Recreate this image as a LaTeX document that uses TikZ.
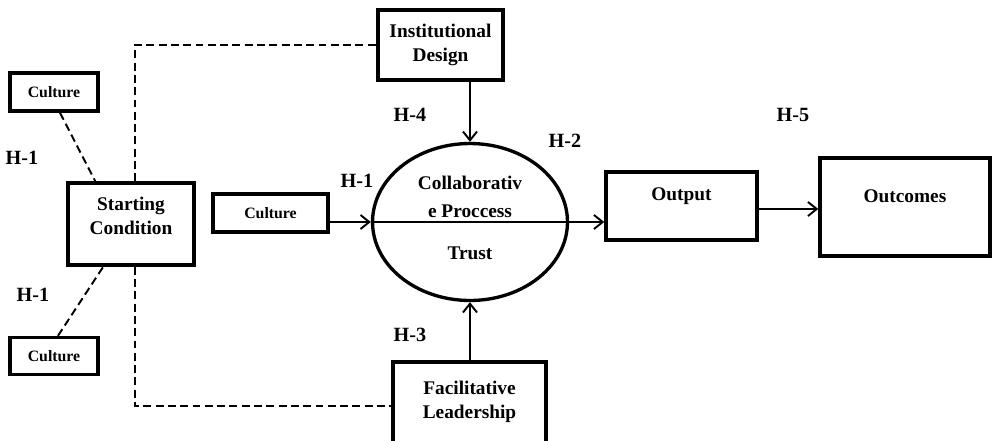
\documentclass[tikz,border=0pt]{standalone}
\usepackage{fontspec}
\setmainfont{Liberation Serif}
\usetikzlibrary{arrows.meta,positioning,calc,shapes.geometric}

\tikzset{
  box/.style={draw, line width=2pt, rectangle, inner sep=0pt},
  smallbox/.style={box, minimum width=1.76cm, minimum height=0.76cm, font=\fontsize{9}{11}\selectfont\bfseries},
  txt/.style={align=center, inner sep=0pt, font=\fontsize{11}{14}\selectfont\bfseries},
  hyp/.style={inner sep=0pt, font=\fontsize{11.5}{14}\selectfont\bfseries},
  link/.style={line width=1.1pt, dash pattern=on 4.5pt off 2.5pt},
  flow/.style={-{Straight Barb[length=5pt,width=8pt]}, line width=1.1pt},
}

\begin{document}
\begin{tikzpicture}[x=0.02cm, y=-0.02cm]
    \useasboundingbox (0,0) rectangle (993,440);
    % Boxes
    \node[smallbox] (cultop) at (54,92) {Culture};
    \node[smallbox, minimum height=0.74cm] (culbot) at (54,356) {Culture};
    \node[box, minimum width=2.52cm, minimum height=1.64cm] (start) at (131,224) {};
    \node[txt] (starttext) at (131,216) {Starting\\Condition};
    \node[smallbox, minimum width=2.3cm] (culmid) at (270.5,213) {Culture};
    \node[box, txt, minimum width=2.5cm, minimum height=1.4cm] (design) at (440.5,45) {Institutional\\Design};
    \node[draw, ellipse, line width=1.9pt, minimum width=3.9cm, minimum height=3.14cm] (proc) at (470,222) {};
    \node[txt, font=\fontsize{11}{16}\selectfont\bfseries] (proctext) at (470,197) {Collaborativ\\e Proccess};
    \node[txt] (trusttext) at (470,253) {Trust};
    \node[box, minimum width=3.02cm, minimum height=1.36cm] (output) at (681.5,206) {};
    \node[txt] (outputtext) at (681.5,196) {Output};
    \node[box, minimum width=3.4cm, minimum height=1.96cm] (outcomes) at (905,207) {};
    \node[txt] (outcomestext) at (905,196) {Outcomes};
    \node[box, minimum width=3.06cm, minimum height=1.76cm] (lead) at (469.5,406) {};
    \node[txt] (leadtext) at (469.5,402) {Facilitative\\Leadership};
    % Hypotheses
    \node[hyp] (h1a) at (22,158) {H-1};
    \node[hyp] (h1b) at (33,295) {H-1};
    \node[hyp] (h1c) at (357,181) {H-1};
    \node[hyp] (h2) at (565,141) {H-2};
    \node[hyp] (h3) at (410,335) {H-3};
    \node[hyp] (h4) at (410,115) {H-4};
    \node[hyp] (h5) at (793,115) {H-5};
    % Dashed links
    \draw[link] ([xshift=0.08cm]start.north) |- (design.west);
    \draw[link] ([xshift=0.08cm]start.south) |- (lead.west);
    \draw[link] ([xshift=0.12cm]cultop.south) -- ([xshift=0.58cm]start.north west);
    \draw[link] ([xshift=0.08cm]culbot.north) -- ([xshift=0.74cm]start.south west);
    % Arrows
    \draw[flow] (culmid.east |- proc.west) -- (proc.west);
    \draw[line width=0.8pt] (proc.west) -- (proc.east);
    \draw[flow] (proc.east) -- (proc.east -| output.west);
    \draw[flow] (proc.north |- design.south) -- (proc.north);
    \draw[flow] (proc.south |- lead.north) -- (proc.south);
    \draw[flow] ([yshift=-0.06cm]output.east) -- ([yshift=-0.06cm]output.east -| outcomes.west);
\end{tikzpicture}
\end{document}
